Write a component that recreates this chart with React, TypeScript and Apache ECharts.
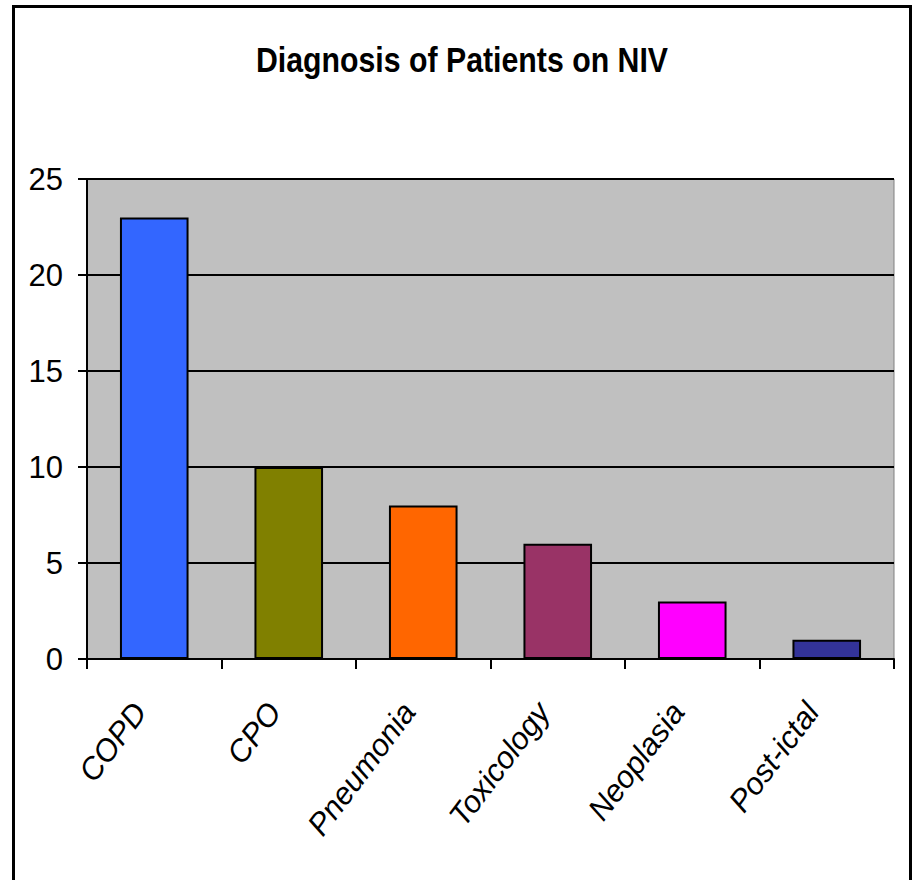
import React, { useEffect, useRef } from "react";
import * as echarts from "echarts";

const categories = ["COPD", "CPO", "Pneumonia", "Toxicology", "Neoplasia", "Post-ictal"];
const values = [23, 10, 8, 6, 3, 1];
const barColors = ["#3366FF", "#808000", "#FF6600", "#993366", "#FF00FF", "#333399"];
const titleText = "Diagnosis of Patients on NIV";

const FONT = '"Liberation Sans", Arial, sans-serif';

export default function App() {
  const ref = useRef<HTMLDivElement>(null);
  useEffect(() => {
    if (!ref.current) return;
    const chart = echarts.init(ref.current, null, { renderer: "svg" });
    chart.setOption({
      animation: false,
      backgroundColor: "#ffffff",
      graphic: [
        {
          type: "rect",
          shape: { x: 13.5, y: 6.5, width: 897, height: 885 },
          style: { fill: "none", stroke: "#000", lineWidth: 3 },
          z: 100,
        },
        {
          type: "text",
          x: 462,
          y: 60,
          scaleX: 0.865,
          style: {
            text: titleText,
            fontFamily: FONT,
            fontWeight: "bold",
            fontSize: 35,
            fill: "#000",
            textAlign: "center",
            textVerticalAlign: "middle",
          },
        },
      ],
      grid: {
        left: 87,
        right: 20,
        top: 179,
        bottom: 221,
        show: true,
        backgroundColor: "#C0C0C0",
        borderColor: "#808080",
        borderWidth: 1,
      },
      xAxis: {
        type: "category",
        data: categories,
        boundaryGap: true,
        axisLine: { show: true, lineStyle: { color: "#000", width: 2 } },
        axisTick: { show: true, alignWithLabel: false, length: 10, lineStyle: { color: "#000", width: 2 } },
        axisLabel: {
          rotate: 53,
          interval: 0,
          margin: 28,
          padding: [0, 24, 0, 0],
          fontFamily: FONT,
          fontStyle: "italic",
          fontSize: 31,
          color: "#000",
        },
      },
      yAxis: {
        type: "value",
        min: 0,
        max: 25,
        interval: 5,
        axisLine: { show: true, lineStyle: { color: "#000", width: 2 } },
        axisTick: { show: true, length: 9, lineStyle: { color: "#000", width: 2 } },
        axisLabel: { margin: 24, fontFamily: FONT, fontSize: 31, color: "#000" },
        splitLine: { show: true, lineStyle: { color: "#000", width: 2 } },
      },
      series: [
        {
          type: "bar",
          barWidth: "51%",
          data: values.map((v, i) => ({
            value: v,
            itemStyle: { color: barColors[i], borderColor: "#000", borderWidth: 2 },
          })),
        },
      ],
    });
    return () => chart.dispose();
  }, []);
  return (
    <div
      ref={ref}
      style={{ position: "absolute", left: 0, top: 0, width: 914, height: 880 }}
    />
  );
}
